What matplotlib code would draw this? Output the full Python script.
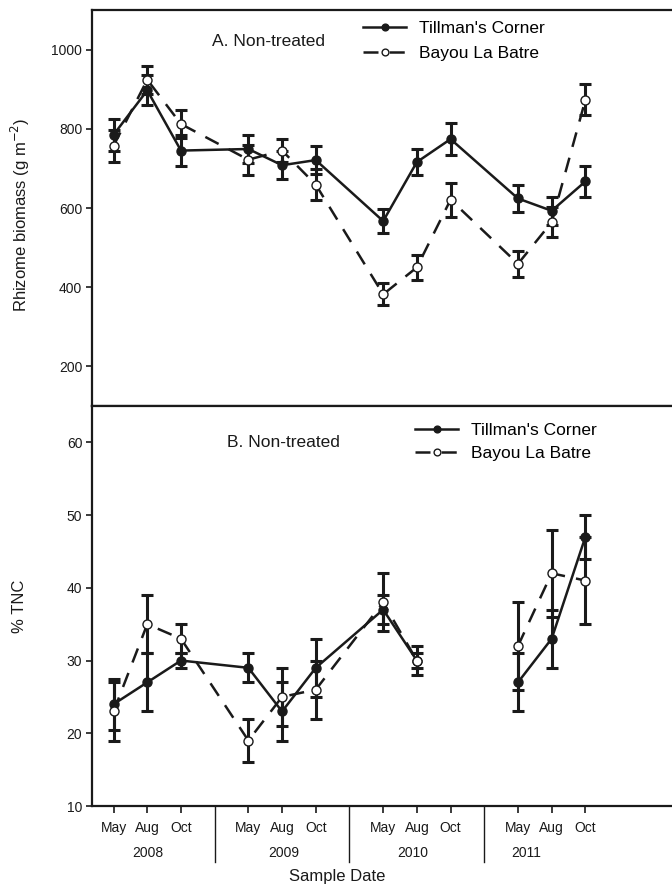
import numpy as np
import matplotlib
matplotlib.use("Agg")
import matplotlib.pyplot as plt
import matplotlib.transforms as mtransforms

plt.rcParams['font.family'] = ['Liberation Sans', 'DejaVu Sans']

# --- data ---
months = ["May", "Aug", "Oct"]
years = ["2008", "2009", "2010", "2011"]
series = ["Tillman's Corner", "Bayou La Batre"]

# rhizome biomass (g m-2), 12 sample dates
tc_bio = [785, 897, 745, 749, 708, 721, 567, 716, 774, 624, 593, 667]
tc_bio_se = [40, 38, 40, 36, 35, 36, 30, 33, 40, 34, 35, 40]
bl_bio = [757, 924, 812, 722, 745, 659, 382, 450, 621, 459, 564, 873]
bl_bio_se = [40, 35, 36, 38, 30, 40, 28, 32, 43, 33, 38, 39]

# % TNC (Oct 2010 missing)
tc_tnc = [24, 27, 30, 29, 23, 29, 37, 30, np.nan, 27, 33, 47]
tc_tnc_se = [3.5, 4, 1, 2, 4, 4, 2, 2, np.nan, 4, 4, 3]
bl_tnc = [23, 35, 33, 19, 25, 26, 38, 30, np.nan, 32, 42, 41]
bl_tnc_se = [4, 4, 2, 3, 4, 4, 4, 1, np.nan, 6, 6, 6]

# --- layout ---
# each year takes three slots plus one empty slot used as separator
x = np.array([1 + 4 * yi + mi for yi in range(len(years)) for mi in range(len(months))])
sep_x = [4, 8, 12]
year_x = [2.02, 6.04, 9.88, 13.24]

W, H = 672, 886
fig = plt.figure(figsize=(W / 100, H / 100), dpi=100)
left = 92 / W
width = 582 / W
ax1 = fig.add_axes([left, (H - 406) / H, width, 396 / H])
ax2 = fig.add_axes([left, (H - 806) / H, width, 400 / H])

lw = 1.8
dash = (0, (6, 4.5))
ink = '#1a1a1a'


def draw(ax, tc, tc_se, bl, bl_se):
    ax.errorbar(x, tc, yerr=tc_se, fmt='none', ecolor=ink, elinewidth=2.2,
                capsize=4.5, capthick=2.2, zorder=2)
    ax.errorbar(x, bl, yerr=bl_se, fmt='none', ecolor=ink, elinewidth=2.2,
                capsize=4.5, capthick=2.2, zorder=2)
    ax.plot(x, tc, color=ink, lw=lw, marker='o', ms=6.5, mfc=ink,
            mec=ink, label=series[0], zorder=3)
    ax.plot(x, bl, color=ink, lw=lw, linestyle=dash, marker='o', ms=6.5,
            mfc='white', mec=ink, mew=1.0, label=series[1], zorder=4)
    ax.set_xlim(0.36, 17.63)
    for s in ax.spines.values():
        s.set_linewidth(1.6)
        s.set_color(ink)
    ax.tick_params(axis='y', direction='out', length=4, width=1.2, labelsize=10,
                   colors=ink, pad=3)


draw(ax1, tc_bio, tc_bio_se, bl_bio, bl_bio_se)
ax1.set_ylim(100, 1100)
ax1.set_yticks([200, 400, 600, 800, 1000])
ax1.set_xticks([])

draw(ax2, tc_tnc, tc_tnc_se, bl_tnc, bl_tnc_se)
ax2.set_ylim(10, 65)
ax2.set_yticks([10, 20, 30, 40, 50, 60])
ax2.set_xticks(x)
ax2.set_xticklabels(months * len(years))
ax2.tick_params(axis='x', direction='out', length=5, width=1.2, labelsize=10,
                colors=ink, pad=6)

# year separators and year labels
trans = mtransforms.blended_transform_factory(ax2.transData, ax2.transAxes)
for sx in sep_x:
    ax2.plot([sx, sx], [0, -56 / 400], transform=trans, color=ink, lw=1.0,
             clip_on=False)
for yx, yl in zip(year_x, years):
    ax2.text(yx, -47 / 400, yl, transform=trans, ha='center', va='center',
             fontsize=10, color=ink)

# panel titles
ax1.text((212 - 92) / 582, (406 - 41) / 396, "A. Non-treated", transform=ax1.transAxes,
         ha='left', va='center', fontsize=12.5, color=ink)
ax2.text((227 - 92) / 582, (806 - 443) / 400, "B. Non-treated", transform=ax2.transAxes,
         ha='left', va='center', fontsize=12.5, color=ink)

# legends
ax1.legend(loc='upper left', bbox_to_anchor=((363 - 92) / 582, (406 - 21) / 396),
           frameon=False, fontsize=12.5, handlelength=2.5, handletextpad=0.7,
           labelspacing=0.55, borderpad=0, borderaxespad=0, numpoints=1,
           markerscale=0.75)
ax2.legend(loc='upper left', bbox_to_anchor=((415 - 92) / 582, (806 - 423) / 400),
           frameon=False, fontsize=12.5, handlelength=2.5, handletextpad=0.7,
           labelspacing=0.42, borderpad=0, borderaxespad=0, numpoints=1,
           markerscale=0.75)

# axis labels
fig.text(20 / W, 1 - 215 / H, "Rhizome biomass (g m$^{-2}$)", rotation=90,
         ha='center', va='center', fontsize=12, color=ink)
fig.text(20 / W, 1 - 606 / H, "% TNC", rotation=90, ha='center', va='center',
         fontsize=12, color=ink)
fig.text(337 / W, 1 - 877 / H, "Sample Date", ha='center', va='center',
         fontsize=12, color=ink)

fig.savefig("out.png", dpi=100)
